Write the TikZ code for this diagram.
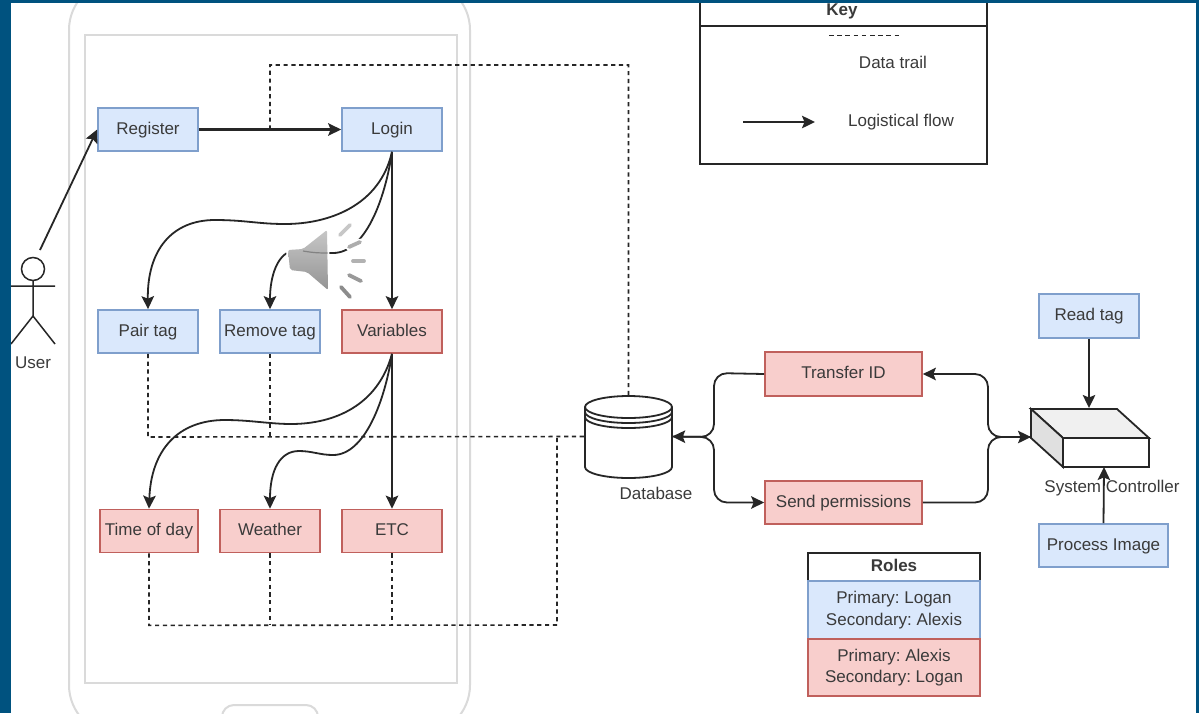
\documentclass[tikz,border=0pt]{standalone}
\usepackage{fontspec}
\setmainfont{Liberation Sans}
\usetikzlibrary{arrows.meta,calc}
\definecolor{bar}{HTML}{00527F}
\definecolor{bluefill}{HTML}{DAE8FC}
\definecolor{bluedraw}{HTML}{7F9FCC}
\definecolor{redfill}{HTML}{F8CECC}
\definecolor{reddraw}{HTML}{C0605C}
\definecolor{ink}{HTML}{262626}
\definecolor{txt}{HTML}{3A3A3A}
\definecolor{phone}{HTML}{DADADA}
\tikzset{
  every node/.style={font=\frenchspacing\fontsize{17}{21}\selectfont, text=txt, align=center, inner sep=0pt, text height=13pt, text depth=3.4pt},
  twolines/.style={font=\frenchspacing\fontsize{17}{21.5}\selectfont, text height=, text depth=},
  blueb/.style={draw=bluedraw, fill=bluefill, line width=1.7pt},
  redb/.style={draw=reddraw, fill=redfill, line width=1.7pt},
  std/.style={minimum width=100pt, minimum height=43pt},
  flow/.style={draw=ink, line width=1.8pt, -{Stealth[length=13pt,width=12.5pt,inset=2.5pt]}},
  plainline/.style={draw=ink, line width=1.5pt},
  trail/.style={draw=ink, line width=1.6pt, dash pattern=on 4.2pt off 3.6pt},
  phoneline/.style={draw=phone, line width=2pt},
  outline/.style={draw=ink, line width=1.8pt},
  spk/.style={line width=3.8pt, line cap=round},
  spkhalo/.style={line width=7pt, line cap=round, draw=white},
}
\begin{document}
\begin{tikzpicture}[x=1pt,y=-1pt]
\clip (0,0) rectangle (1199,713);
\fill[white] (0,0) rectangle (1199,713);

% phone
\draw[phoneline, rounded corners=50pt] (69,-20) rectangle (470,735);
\draw[phoneline] (85,35) rectangle (457,683);
\draw[phoneline, rounded corners=12pt] (222,740) rectangle (318,705);

% boxes
\node[blueb,std] (register) at (148,129.5) {Register};
\node[blueb,std] (login) at (392,129.5) {Login};
\node[blueb,std] (pair) at (148,331.5) {Pair tag};
\node[blueb,std] (remove) at (270,331.5) {Remove tag};
\node[redb,std] (variables) at (392,331.5) {Variables};
\node[redb,std,minimum width=98pt] (time) at (149,531) {Time of day};
\node[redb,std] (weather) at (270,531) {Weather};
\node[redb,std] (etc) at (392,531) {ETC};
\node[redb,minimum width=157pt,minimum height=44pt] (transfer) at (843.5,374) {Transfer ID};
\node[redb,minimum width=157pt,minimum height=43pt] (send) at (843.5,502.5) {Send permissions};
\node[blueb,std,minimum height=44pt] (read) at (1089,316) {Read tag};
\node[blueb,minimum width=129pt,minimum height=43pt] (process) at (1103.5,545.5) {Process Image};

% anchors of the drawn figures
\node[minimum width=87pt,minimum height=83pt] (db) at (628.5,436.5) {};
\coordinate (mid) at ($(register.east)!0.5!(login.west)$);

% data trails
\draw[trail] (mid) -- (270,65) -- (628.5,65) -- (db.north);
\draw[trail] (pair.south) -- (148,437) -- (db.west);
\draw[trail] (remove.south) -- (270,437);
\draw[trail] (time.south) -- ++(0,72) -- (557,625) -- (557,437);
\draw[trail] (weather.south) -- (270,625);
\draw[trail] (etc.south) -- (392,625);

% logical flow, phone
\draw[flow] (40,250) -- (register.west);
\draw[flow, line width=2.2pt] (register.east) -- (login.west);
\draw[flow] (login.south) .. controls (380,205) and (330,224) .. (285,224) .. controls (258,224) and (245,220) .. (215,220) .. controls (172,220) and (147,250) .. (pair.north);
\draw[flow] (login.south) .. controls (385,200) and (365,253) .. (333,253) .. controls (320,253) and (305,250) .. (292,251) .. controls (278,254) and (270,275) .. (remove.north);
\draw[flow] (login.south) -- (variables.north);
\draw[flow] (variables.south) .. controls (378,405) and (335,424) .. (291,424) .. controls (270,424) and (250,420) .. (225,420) .. controls (178,420) and (151,450) .. (time.north);
\draw[flow] (variables.south) .. controls (385,400) and (365,455) .. (333,455) .. controls (320,455) and (312,451) .. (299,451) .. controls (280,451) and (270,470) .. (weather.north);
\draw[flow] (variables.south) -- (etc.north);

% database
\draw[outline, fill=white] (585,407) -- (585,467) arc[start angle=180,end angle=360,x radius=43.5pt,y radius=11pt] -- (672,407) arc[start angle=0,end angle=180,x radius=43.5pt,y radius=11pt] -- cycle;
\draw[outline] (585,407) arc[start angle=180,end angle=360,x radius=43.5pt,y radius=11pt];
\draw[outline] (585,412) arc[start angle=180,end angle=360,x radius=43.5pt,y radius=11pt];
\draw[outline] (585,417) arc[start angle=180,end angle=360,x radius=43.5pt,y radius=11pt];
\node (dblabel) at (656,495) {Database};

% controller
\draw[outline, fill=white] (1063,438) -- (1149,438) -- (1149,467) -- (1063,467) -- cycle;
\draw[outline, fill=black!6] (1031,409) -- (1117,409) -- (1149,438) -- (1063,438) -- cycle;
\draw[outline, fill=black!12] (1031,409) -- (1063,438) -- (1063,467) -- (1031,438) -- cycle;
\node (syslabel) at (1112,488) {System Controller};

% flows, right part
\draw[flow, rounded corners=13pt] (transfer.west) -- (714,373) -- (714,437) -- (db.east);
\draw[flow, rounded corners=13pt] (db.east) -- (714,437) -- (714,502.5) -- (send.west);
\draw[flow, rounded corners=13pt] (1031,437) -- (988,437) -- (988,374) -- (transfer.east);
\draw[flow, rounded corners=13pt] (send.east) -- (988,502.5) -- (988,437) -- (1031,437);
\draw[flow] (read.south) -- (1089,408);
\draw[flow] (process.north) -- (1104,467);

% actor
\draw[plainline] (33,269) circle[radius=11.5pt];
\draw[plainline] (33,280.5) -- (33,316) (11,286) -- (55,286) (11,344) -- (33,316) -- (55,344);
\node (userlabel) at (33,364) {User};

% key
\node[draw=ink, line width=1.8pt, minimum width=287pt, minimum height=184pt, text height=0pt, text depth=0pt] (key) at (843.5,72) {};
\draw[outline] (700,26) -- (987,26);
\node[font=\frenchspacing\fontsize{17}{21}\selectfont\bfseries] (keytitle) at (842,11) {Key};
\coordinate (keyd1) at (829,35.5);
\coordinate (keyd2) at (902,35.5);
\draw[draw=ink, line width=1.4pt, dash pattern=on 4.6pt off 3.6pt] (keyd1) -- (keyd2);
\node (datatrail) at (893,64) {Data trail};
\coordinate (keya1) at (743,122);
\coordinate (keya2) at (815,122);
\draw[flow] (keya1) -- (keya2);
\node (logflow) at (901,122) {Logistical flow};

% roles
\node[outline, fill=white, minimum width=172pt, minimum height=28pt, font=\frenchspacing\fontsize{17}{21}\selectfont\bfseries] (rolest) at (894,567) {Roles};
\node[blueb, twolines, minimum width=172pt, minimum height=58pt] (rolesa) at (894,610) {Primary: Logan\\Secondary: Alexis};
\node[redb, twolines, minimum width=172pt, minimum height=57pt] (rolesb) at (894,667.5) {Primary: Alexis\\Secondary: Logan};

% speaker
\draw[spkhalo] (340,235) -- (350,225) (349,247) -- (360,242) (353,261) -- (364,261) (349,275) -- (361,281) (341,287) -- (350,297);
\path[draw=white, line width=4pt, line join=round, fill=white] (288,250) -- (303,249) -- (327,230) -- (328,290) -- (307,272) -- (290,270) -- cycle;
\shade[top color=black!22, bottom color=black!42, rounded corners=2pt] (288,250) -- (303,249) -- (327,230) -- (328,290) -- (307,272) -- (290,270) -- cycle;
\draw[ink, opacity=0.35, line width=1.2pt] (303,251) .. controls (315,253) and (320,253) .. (328,253);
\draw[spk, black!22] (340,235) -- (350,225);
\draw[spk, black!32] (349,247) -- (360,242);
\draw[spk, black!30] (353,261) -- (364,261);
\draw[spk, black!40] (349,275) -- (361,281);
\draw[spk, black!45] (341,287) -- (350,297);

% frame
\fill[bar] (0,0) rectangle (11,713);
\fill[bar] (0,0) rectangle (1199,3);
\fill[bar] (1196,0) rectangle (1199,713);
\end{tikzpicture}
\end{document}
